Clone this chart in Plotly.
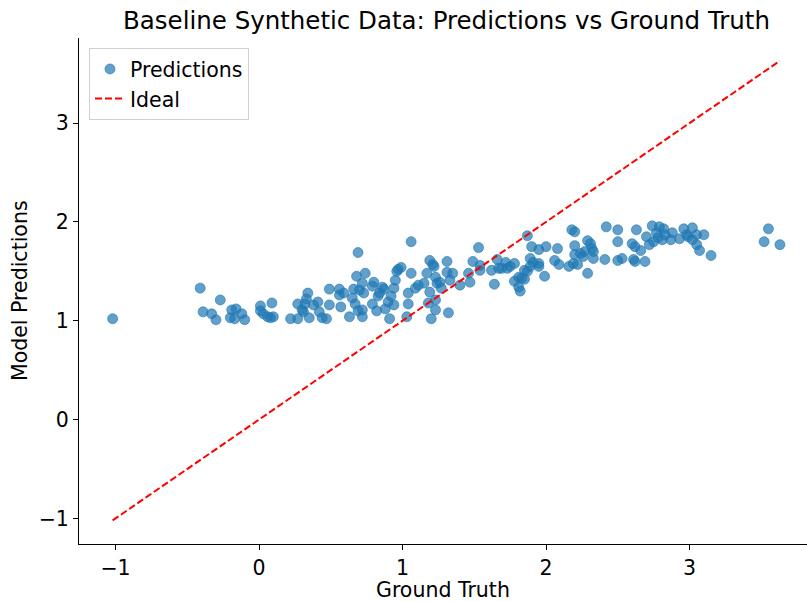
import plotly.graph_objects as go

ground_truth = [
    -1.02, -0.41, -0.27, -0.39, -0.33, -0.30, -0.19, -0.16, -0.20, -0.17,
    -0.12, -0.10, 0.01, 0.01, 0.03, 0.06, 0.10, 0.08, 0.09,
    0.22, 0.27, 0.27, 0.34, 0.33, 0.31, 0.35, 0.38, 0.41, 0.42,
    0.44, 0.47, 0.49, 0.49, 0.56, 0.56, 0.57, 0.59, 0.63, 0.65,
    0.67, 0.68, 0.69, 0.69, 0.72, 0.70, 0.73, 0.74, 0.72, 0.72,
    0.79, 0.80, 0.82, 0.83, 0.86, 0.87, 0.88, 0.90, 0.91, 0.92,
    0.94, 0.94, 0.95, 0.96, 0.97, 0.99, 1.03, 1.04, 1.04, 1.06,
    1.06, 1.09, 1.11, 1.15, 1.17, 1.19, 1.21, 1.23, 1.19, 1.18,
    1.23, 1.20, 1.24, 1.22, 1.26, 1.31, 1.31, 1.35, 1.33, 1.27,
    1.23, 1.32, 1.40, 1.46, 1.47, 1.49, 1.53, 1.54, 1.62, 1.64,
    1.66, 1.67, 1.69, 1.72, 1.73, 1.75, 1.78, 1.78, 1.81, 1.81,
    1.82, 1.85, 1.87, 1.87, 1.89, 1.90, 1.89, 1.91, 1.95, 1.95,
    1.95, 1.99, 2.00, 2.06, 2.08, 2.09, 2.16, 2.18, 2.20, 2.20,
    2.19, 2.20, 2.22, 2.24, 2.26, 2.27, 2.29, 2.29, 2.31, 2.32,
    2.33, 2.33, 2.42, 2.41, 2.50, 2.50, 2.50, 2.53, 2.60, 2.62,
    2.63, 2.61, 2.62, 2.66, 2.69, 2.70, 2.72, 2.74, 2.75, 2.77,
    2.78, 2.79, 2.81, 2.82, 2.83, 2.87, 2.88, 2.93, 2.96, 2.98,
    2.99, 3.02, 3.02, 3.05, 3.05, 3.07, 3.10, 3.15, 3.52, 3.55,
    3.63, 0.79, 0.84, 0.30, 0.32, 0.66, 1.83, 1.85, 1.54,
]
predictions = [
    1.02, 1.33, 1.21, 1.09, 1.07, 1.01, 1.11, 1.12, 1.03, 1.02,
    1.07, 1.01, 1.15, 1.10, 1.07, 1.04, 1.04, 1.03, 1.18,
    1.02, 1.02, 1.17, 1.28, 1.22, 1.09, 1.03, 1.16, 1.19, 1.09,
    1.03, 1.02, 1.32, 1.16, 1.32, 1.26, 1.14, 1.28, 1.04, 1.23,
    1.17, 1.45, 1.69, 1.10, 1.11, 1.31, 1.28, 1.48, 1.38, 1.04,
    1.17, 1.39, 1.10, 1.25, 1.34, 1.32, 1.12, 1.19, 1.02, 1.25,
    1.33, 1.16, 1.41, 1.50, 1.52, 1.54, 1.04, 1.17, 1.28, 1.48,
    1.80, 1.33, 1.36, 1.38, 1.48, 1.61, 1.57, 1.44, 1.29, 1.18,
    1.11, 1.02, 1.38, 1.55, 1.39, 1.60, 1.49, 1.48, 1.41, 1.33,
    1.21, 1.08, 1.36, 1.48, 1.39, 1.60, 1.74, 1.51, 1.51, 1.37,
    1.62, 1.53, 1.53, 1.59, 1.53, 1.55, 1.58, 1.40, 1.44, 1.34,
    1.30, 1.42, 1.50, 1.86, 1.63, 1.75, 1.55, 1.59, 1.72, 1.58,
    1.55, 1.45, 1.75, 1.61, 1.73, 1.57, 1.55, 1.92, 1.90, 1.76,
    1.58, 1.67, 1.57, 1.68, 1.65, 1.70, 1.81, 1.48, 1.78, 1.73,
    1.63, 1.70, 1.95, 1.62, 1.92, 1.80, 1.61, 1.63, 1.78, 1.75,
    1.92, 1.62, 1.60, 1.71, 1.60, 1.85, 1.77, 1.96, 1.80, 1.89,
    1.84, 1.95, 1.82, 1.93, 1.87, 1.82, 1.89, 1.83, 1.93, 1.87,
    1.85, 1.94, 1.82, 1.77, 1.87, 1.71, 1.87, 1.66, 1.80, 1.93,
    1.77, 1.35, 1.28, 1.11, 1.17, 1.32, 1.43, 1.51, 1.56,
]

ideal_line = [-1.02, 3.63]

title_text = "Baseline Synthetic Data: Predictions vs Ground Truth"
x_label = "Ground Truth"
y_label = "Model Predictions"
tick_vals = [-1, 0, 1, 2, 3]
tick_text = ["\u22121", "0", "1", "2", "3"]

FONT = "DejaVu Sans, Liberation Sans, sans-serif"
FS = 20.5

fig = go.Figure()
fig.add_trace(go.Scatter(
    x=ground_truth, y=predictions, mode="markers", name="Predictions",
    marker=dict(color="rgba(31,119,180,0.7)", size=10,
                line=dict(color="rgba(31,119,180,0.75)", width=0.8)),
))
fig.add_trace(go.Scatter(
    x=ideal_line, y=ideal_line, mode="lines", name="Ideal",
    line=dict(color="red", width=2, dash="7px,3px"),
))

W, H = 807, 602
L, R, T, B = 79, 0, 38, 58
fig.update_layout(
    width=W, height=H,
    margin=dict(l=L, r=R, t=T, b=B),
    paper_bgcolor="white", plot_bgcolor="white",
    font=dict(family=FONT, size=FS, color="black"),
    showlegend=True,
    legend=dict(x=0.0137, y=0.98, xanchor="left", yanchor="top",
                bgcolor="rgba(255,255,255,0.8)", bordercolor="#d0d0d0",
                borderwidth=1,
                font=dict(size=FS, family=FONT)),
    annotations=[
        dict(text=title_text, xref="paper", yref="paper", x=0.505, y=1,
             yshift=18, xanchor="center", yanchor="middle", showarrow=False,
             font=dict(size=24.5, family=FONT)),
        dict(text=x_label, xref="paper", yref="paper", x=0.5, y=0,
             yshift=-46, xanchor="center", yanchor="middle", showarrow=False,
             font=dict(size=FS, family=FONT)),
        dict(text=y_label, xref="paper", yref="paper", x=0, y=0.5,
             xshift=-59, xanchor="center", yanchor="middle", showarrow=False,
             textangle=-90, font=dict(size=FS, family=FONT)),
    ],
)
fig.update_xaxes(
    range=[-1.2545, 3.8187], showgrid=False, zeroline=False,
    showline=True, linecolor="black", linewidth=1,
    ticks="outside", ticklen=5, tickwidth=1, tickcolor="black",
    tickvals=tick_vals, ticktext=tick_text, tickfont=dict(size=FS),
    mirror=False,
)
fig.update_yaxes(
    range=[-1.259, 3.861], showgrid=False, zeroline=False,
    showline=True, linecolor="black", linewidth=1,
    ticks="outside", ticklen=5, tickwidth=1, tickcolor="black",
    tickvals=tick_vals, ticktext=tick_text, tickfont=dict(size=FS),
    mirror=False,
)

fig.write_html(
    "out.html",
    config={"displayModeBar": False},
    post_script="document.body.style.margin='0';document.body.style.overflow='hidden';",
)
